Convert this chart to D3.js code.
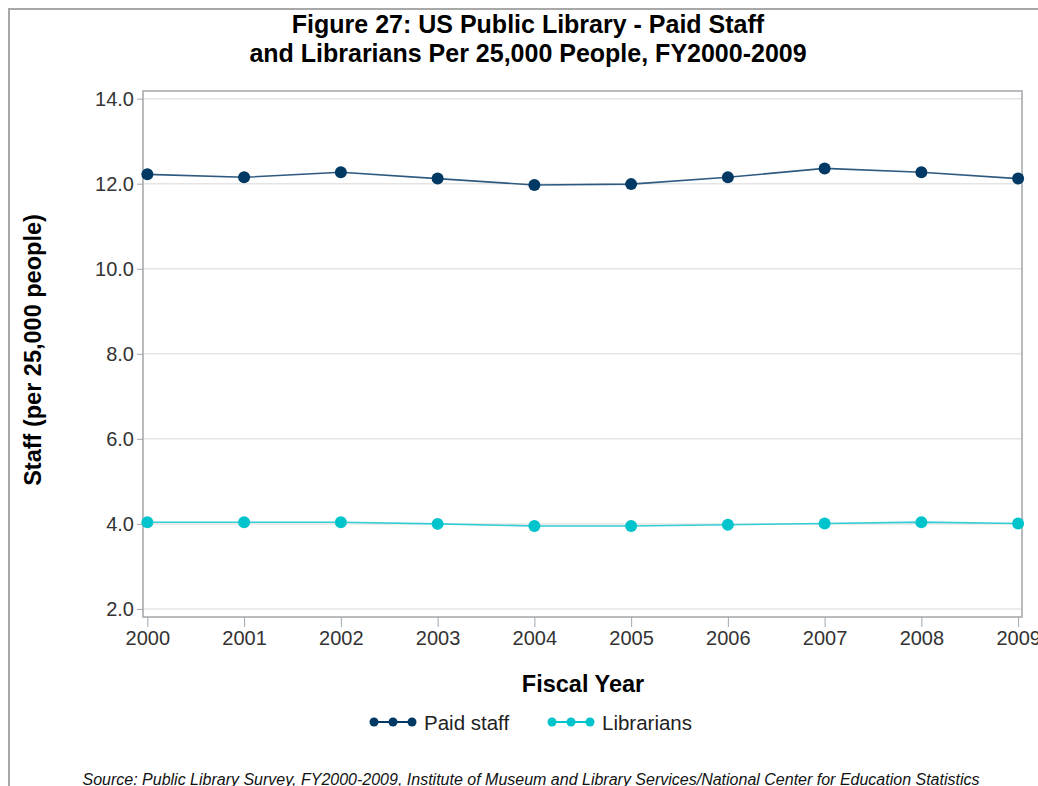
<!DOCTYPE html>
<html>
<head>
<meta charset="utf-8">
<script src="https://cdn.jsdelivr.net/npm/d3@7"></script>
<style>
  body { margin: 0; background: #fff; }
  svg { font-family: "Liberation Sans", Arial, sans-serif; }
</style>
</head>
<body>
<script>
const years = [2000, 2001, 2002, 2003, 2004, 2005, 2006, 2007, 2008, 2009];
const paidStaff = [12.22, 12.15, 12.27, 12.12, 11.97, 11.99, 12.15, 12.36, 12.27, 12.12];
const librarians = [4.04, 4.04, 4.04, 4.0, 3.95, 3.95, 3.98, 4.01, 4.04, 4.01];
const yTicks = [2, 4, 6, 8, 10, 12, 14];
const seriesNames = ["Paid staff", "Librarians"];

const w = 1038;
const h = 786;
const staffColor = "#003963";
const staffLine = "#2e5a80";
const libColor = "#00c4cc";
const libLine = "#33cdd3";
const frameColor = "#a3a7ab";

const plot = { left: 143, right: 1022, top: 91, bottom: 617 };

const svg = d3.select("body").append("svg").attr("width", w).attr("height", h);

// outer border
svg.append("rect")
  .attr("x", 9).attr("y", 9)
  .attr("width", w + 20).attr("height", h + 20)
  .attr("fill", "none").attr("stroke", "#a8a8a8").attr("stroke-width", 2);

const xScale = d3.scaleLinear().domain([1999.955, 2009.04]).range([plot.left, plot.right]);
const yScale = d3.scaleLinear().domain([1.81, 14.18]).range([plot.bottom, plot.top]);

// gridlines
svg.append("g")
  .selectAll("line")
  .data(yTicks)
  .enter()
  .append("line")
  .attr("x1", plot.left).attr("x2", plot.right)
  .attr("y1", (d) => yScale(d)).attr("y2", (d) => yScale(d))
  .attr("stroke", "#e4e4e4").attr("stroke-width", 1.5);

// axes
const xAxis = d3.axisBottom(xScale).tickValues(years).tickFormat(d3.format("d")).tickSize(10).tickSizeOuter(0);
const gx = svg.append("g")
  .attr("id", "x-axis")
  .attr("transform", `translate(0, ${plot.bottom})`)
  .call(xAxis);
gx.select(".domain").remove();
gx.selectAll("line").attr("stroke", frameColor);
gx.selectAll("text").attr("font-size", 20).attr("fill", "#333").attr("y", 14).attr("dy", "0.71em");

const yAxis = d3.axisLeft(yScale).tickValues(yTicks).tickFormat(d3.format(".1f")).tickSize(6).tickSizeOuter(0);
const gy = svg.append("g")
  .attr("id", "y-axis")
  .attr("transform", `translate(${plot.left}, 0)`)
  .call(yAxis);
gy.select(".domain").remove();
gy.selectAll("line").attr("stroke", frameColor);
gy.selectAll("text").attr("font-size", 20).attr("fill", "#333").attr("x", -9);

// frame
svg.append("rect")
  .attr("x", plot.left).attr("y", plot.top)
  .attr("width", plot.right - plot.left).attr("height", plot.bottom - plot.top)
  .attr("fill", "none").attr("stroke", frameColor).attr("stroke-width", 1.5);

// lines + markers
const series = [
  { name: seriesNames[0], values: paidStaff, color: staffColor, line: staffLine },
  { name: seriesNames[1], values: librarians, color: libColor, line: libLine },
];
const line = d3.line().x((d, i) => xScale(years[i])).y((d) => yScale(d));
series.forEach((s) => {
  svg.append("path")
    .datum(s.values)
    .attr("d", line)
    .attr("fill", "none")
    .attr("stroke", s.line)
    .attr("stroke-width", 1.6);
  svg.append("g")
    .selectAll("circle")
    .data(s.values)
    .enter()
    .append("circle")
    .attr("cx", (d, i) => xScale(years[i]))
    .attr("cy", (d) => yScale(d))
    .attr("r", 6)
    .attr("fill", s.color);
});

// titles
const title = svg.append("text")
  .attr("text-anchor", "middle")
  .attr("font-size", 25)
  .attr("font-weight", "bold")
  .attr("fill", "#000");
title.append("tspan").attr("x", 528).attr("y", 33).text("Figure 27: US Public Library - Paid Staff");
title.append("tspan").attr("x", 528).attr("y", 62).text("and Librarians Per 25,000 People, FY2000-2009");

svg.append("text")
  .text("Staff (per 25,000 people)")
  .attr("transform", "rotate(-90)")
  .attr("x", -350)
  .attr("y", 41)
  .attr("text-anchor", "middle")
  .attr("font-size", 23.5)
  .attr("font-weight", "bold");

svg.append("text")
  .text("Fiscal Year")
  .attr("x", 583)
  .attr("y", 692)
  .attr("text-anchor", "middle")
  .attr("font-size", 23.5)
  .attr("font-weight", "bold");

// legend
const legendX = [370, 548];
series.forEach((s, k) => {
  const g = svg.append("g").attr("transform", `translate(${legendX[k]}, 722)`);
  g.append("line").attr("x1", 0).attr("x2", 46).attr("y1", 0).attr("y2", 0)
    .attr("stroke", s.color).attr("stroke-width", 2);
  [4, 23, 42].forEach((cx) => {
    g.append("circle").attr("cx", cx).attr("cy", 0).attr("r", 4.5).attr("fill", s.color);
  });
  g.append("text").text(s.name).attr("x", 54).attr("y", 7.5)
    .attr("font-size", 20.5).attr("fill", "#222");
});

// source
svg.append("text")
  .text("Source: Public Library Survey, FY2000-2009, Institute of Museum and Library Services/National Center for Education Statistics")
  .attr("x", 531)
  .attr("y", 785)
  .attr("text-anchor", "middle")
  .attr("font-size", 16)
  .attr("font-style", "italic")
  .attr("fill", "#111");
</script>
</body>
</html>
